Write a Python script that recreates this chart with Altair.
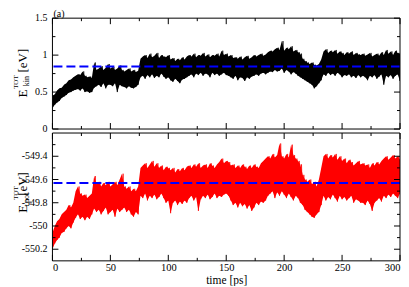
import altair as alt
import pandas as pd

# ---------------- data ----------------
times = list(range(0, 301, 2))

kin_hi = [0.45, 0.47, 0.52, 0.55, 0.56, 0.60, 0.62, 0.66, 0.67, 0.70, 0.72,
          0.74, 0.73, 0.78, 0.72, 0.70, 0.71, 0.69,
          0.90, 0.80, 0.82, 0.85, 0.80, 0.83, 0.88, 0.82, 0.84, 0.80, 0.82, 0.86, 0.80, 0.78, 0.80, 0.82, 0.78, 0.80, 0.77, 0.79,
          0.95, 0.98, 1.00, 0.96, 1.02, 0.97, 0.99, 1.03, 0.96, 1.00, 0.98, 0.97, 1.00,
          0.94, 0.96, 0.92, 0.95, 0.93, 0.97, 0.94, 0.98,
          1.00, 0.98, 1.02, 0.97, 1.00, 0.99, 1.03, 0.98, 1.01, 0.97, 1.00, 0.99, 1.02, 0.98, 1.06, 1.00, 1.02,
          0.98, 1.00, 0.96, 0.97, 0.95, 0.98, 0.94, 0.97, 0.99, 0.95, 0.97, 1.00, 0.98, 1.00, 1.02, 0.99, 1.01,
          1.04, 1.06, 1.05, 1.08, 1.10, 1.07, 1.19, 1.06, 1.10, 1.08, 1.12, 1.05, 1.07, 1.04, 1.02,
          0.95, 0.92, 0.90, 0.88, 0.90, 0.87, 0.86, 0.88, 0.94,
          1.05, 1.08, 1.03, 1.06, 1.04, 1.07, 1.02, 1.05, 1.03, 1.00, 1.04, 1.02, 1.05, 1.00, 1.03, 1.01, 1.00,
          1.02, 0.99, 1.01, 1.03, 0.98, 1.00, 1.02, 0.99, 1.04, 1.00, 1.07, 1.02, 1.05, 1.00, 1.06, 1.03, 1.02]

kin_lo = [0.28, 0.33, 0.36, 0.38, 0.42, 0.44, 0.46, 0.49, 0.50, 0.52, 0.53,
          0.54, 0.52, 0.55, 0.50, 0.51, 0.49, 0.50,
          0.56, 0.58, 0.60, 0.57, 0.62, 0.55, 0.60, 0.60, 0.58, 0.62, 0.50, 0.60, 0.58, 0.57, 0.55, 0.58, 0.56, 0.55, 0.57, 0.60,
          0.70, 0.72, 0.68, 0.73, 0.70, 0.74, 0.69, 0.72, 0.70, 0.75, 0.71, 0.68, 0.70,
          0.66, 0.64, 0.68, 0.65, 0.62, 0.67, 0.68, 0.70,
          0.72, 0.74, 0.70, 0.75, 0.73, 0.76, 0.72, 0.75, 0.74, 0.70, 0.76, 0.73, 0.75, 0.72, 0.74, 0.76, 0.73,
          0.72, 0.70, 0.68, 0.72, 0.66, 0.70, 0.69, 0.65, 0.70, 0.68, 0.71, 0.72, 0.74, 0.72, 0.75, 0.76, 0.74,
          0.76, 0.78, 0.77, 0.80, 0.78, 0.79, 0.82, 0.76, 0.80, 0.78, 0.74, 0.77, 0.75, 0.72, 0.70,
          0.68, 0.66, 0.64, 0.62, 0.60, 0.55, 0.58, 0.62, 0.66,
          0.74, 0.72, 0.76, 0.73, 0.75, 0.72, 0.76, 0.74, 0.70, 0.73, 0.72, 0.74, 0.70, 0.72, 0.69, 0.73, 0.70,
          0.72, 0.70, 0.66, 0.72, 0.70, 0.73, 0.68, 0.71, 0.74, 0.60, 0.72, 0.70, 0.73, 0.68, 0.72, 0.74, 0.65]

pot_hi = [-550.06, -550.00, -549.96, -549.94, -549.90, -549.88, -549.86, -549.82, -549.84, -549.80, -549.70,
          -549.66, -549.72, -549.74, -549.73, -549.76, -549.74, -549.72,
          -549.57, -549.64, -549.62, -549.66, -549.63, -549.65, -549.62, -549.66, -549.64, -549.62, -549.65, -549.60, -549.55, -549.66, -549.68, -549.66, -549.70, -549.68, -549.70, -549.66,
          -549.50, -549.48, -549.46, -549.50, -549.47, -549.44, -549.49, -549.46, -549.50, -549.48, -549.52, -549.49, -549.50,
          -549.52, -549.50, -549.54, -549.51, -549.53, -549.50, -549.52, -549.49,
          -549.48, -549.50, -549.47, -549.49, -549.46, -549.50, -549.48, -549.47, -549.50, -549.46, -549.48, -549.50, -549.47, -549.45, -549.42, -549.46, -549.44,
          -549.45, -549.48, -549.47, -549.50, -549.48, -549.50, -549.47, -549.49, -549.51, -549.48, -549.50, -549.47, -549.49, -549.50, -549.46, -549.44, -549.42,
          -549.40, -549.42, -549.38, -549.41, -549.39, -549.29, -549.40, -549.42, -549.38, -549.41, -549.30, -549.39, -549.42, -549.44, -549.47,
          -549.56, -549.60, -549.62, -549.60, -549.64, -549.62, -549.66, -549.60, -549.50,
          -549.40, -549.38, -549.42, -549.39, -549.41, -549.38, -549.43, -549.40, -549.44, -549.42, -549.46, -549.43, -549.45, -549.48, -549.46, -549.44, -549.47,
          -549.46, -549.48, -549.47, -549.50, -549.46, -549.48, -549.45, -549.47, -549.44, -549.42, -549.40, -549.43, -549.41, -549.39, -549.42, -549.40, -549.43]

pot_lo = [-550.20, -550.15, -550.12, -550.10, -550.06, -550.05, -550.02, -550.00, -550.02, -549.97, -549.93,
          -549.90, -549.94, -549.92, -549.95, -549.92, -549.94, -549.90,
          -549.85, -549.88, -549.86, -549.90, -549.87, -549.84, -549.90, -549.88, -549.86, -549.92, -549.85, -549.88, -549.86, -549.84, -549.88, -549.86, -549.90, -549.92, -549.88, -549.90,
          -549.74, -549.76, -549.72, -549.78, -549.74, -549.76, -549.73, -549.77, -549.75, -549.72, -549.76, -549.80, -549.78,
          -549.89, -549.80, -549.78, -549.82, -549.79, -549.81, -549.78, -549.80,
          -549.76, -549.74, -549.78, -549.75, -549.87, -549.77, -549.74, -549.76, -549.73, -549.77, -549.75, -549.72, -549.76, -549.74, -549.75, -549.73, -549.72,
          -549.74, -549.78, -549.82, -549.80, -549.84, -549.80, -549.83, -549.81, -549.85, -549.82, -549.87, -549.84, -549.80, -549.82, -549.79, -549.80, -549.78,
          -549.74, -549.72, -549.70, -549.76, -549.71, -549.74, -549.70, -549.73, -549.76, -549.72, -549.75, -549.78, -549.74, -549.76, -549.80,
          -549.82, -549.86, -549.88, -549.90, -549.92, -549.93, -549.90, -549.88, -549.82,
          -549.74, -549.78, -549.75, -549.77, -549.73, -549.76, -549.79, -549.74, -549.77, -549.75, -549.78, -549.76, -549.74, -549.80, -549.77, -549.78, -549.80,
          -549.80, -549.82, -549.78, -549.81, -549.87, -549.80, -549.78, -549.76, -549.79, -549.74, -549.76, -549.73, -549.75, -549.72, -549.74, -549.76, -549.72]

kin_mean = 0.845
pot_mean = -549.63

x_major = [0, 50, 100, 150, 200, 250, 300]
x_minor = [25, 75, 125, 175, 225, 275]
kin_major = [0, 0.5, 1, 1.5]
kin_minor = [0.25, 0.75, 1.25]
pot_major = [-550.2, -550.0, -549.8, -549.6, -549.4]
pot_minor = [-550.1, -549.9, -549.7, -549.5, -549.3]

for arr in (kin_hi, kin_lo, pot_hi, pot_lo):
    assert len(arr) == len(times), len(arr)

FONT = "Liberation Serif"
W = 348          # plot width
H1 = 111         # top panel height
GAP = 4          # gap between the panels
H2 = 128         # bottom panel height
H = H1 + GAP + H2
Y2TOP = H1 + GAP

one = pd.DataFrame({"k": [0]})

xs = alt.Scale(domain=[0, 300], nice=False, zero=False)
xaxis = alt.Axis(values=x_major, labelExpr="'' + datum.value", ticks=False,
                 domain=False, grid=False, labelFont=FONT, labelFontSize=10.5,
                 labelFontWeight="normal", labelColor="black", labelPadding=2,
                 title="time [ps]", titleFont=FONT, titleFontSize=11.5,
                 titleFontWeight="normal", titleColor="black", titlePadding=1)


def X(f):
    return alt.X(f, scale=xs, axis=xaxis)


def zig(lo, hi):
    rows = []
    for t, a, b in zip(times, lo, hi):
        rows.append({"t": t, "v": a})
        rows.append({"t": t + 1, "v": b})
    return pd.DataFrame(rows)


def txt(s, x, y, size, angle=270, align="center"):
    return alt.Chart(one).mark_text(
        text=s, font=FONT, fontSize=size, angle=angle, align=align,
        baseline="middle", color="black", fontWeight="normal"
    ).encode(x=alt.value(x), y=alt.value(y))


def panel_layers(lo, hi, color, ydom, y0, y1, ymaj, ymin, mean):
    ys = alt.Scale(domain=ydom, range=[y1, y0], nice=False, zero=False)

    def Y(f):
        return alt.Y(f, scale=ys, axis=None)

    out = []
    out.append(alt.Chart(pd.DataFrame({"t": times, "lo": lo, "hi": hi}))
               .mark_area(color=color, clip=True)
               .encode(x=X("t:Q"), y=Y("lo:Q"), y2="hi:Q"))
    out.append(alt.Chart(zig(lo, hi)).mark_line(color=color, strokeWidth=0.7, clip=True)
               .encode(x=X("t:Q"), y=Y("v:Q")))
    out.append(alt.Chart(pd.DataFrame({"m": [mean]}))
               .mark_rule(color="#0000ff", strokeWidth=2, strokeDash=[9, 4])
               .encode(y=Y("m:Q")))
    # frame
    out.append(alt.Chart(one).mark_rect(fill="transparent", stroke="black", strokeWidth=1)
               .encode(x=alt.value(0), x2=alt.value(W), y=alt.value(y0), y2=alt.value(y1)))
    # x ticks (inward, bottom and top)
    for vals, L in ((x_major, 6), (x_minor, 3)):
        d = pd.DataFrame({"tx": vals})
        out.append(alt.Chart(d).mark_rule(color="black")
                   .encode(x=X("tx:Q"), y=alt.value(y1), y2=alt.value(y1 - L)))
        out.append(alt.Chart(d).mark_rule(color="black")
                   .encode(x=X("tx:Q"), y=alt.value(y0), y2=alt.value(y0 + L)))
    # y ticks (inward, left and right)
    for vals, L in ((ymaj, 6), (ymin, 3)):
        d = pd.DataFrame({"ty": vals})
        out.append(alt.Chart(d).mark_rule(color="black")
                   .encode(y=Y("ty:Q"), x=alt.value(0), x2=alt.value(L)))
        out.append(alt.Chart(d).mark_rule(color="black")
                   .encode(y=Y("ty:Q"), x=alt.value(W), x2=alt.value(W - L)))
    # y tick labels
    d = pd.DataFrame({"ty": ymaj, "lab": [f"{v:g}" for v in ymaj]})
    out.append(alt.Chart(d).mark_text(font=FONT, fontSize=10, align="right",
                                      baseline="middle", color="black")
               .encode(y=Y("ty:Q"), x=alt.value(-5), text="lab:N"))
    return out


layers = []
layers += panel_layers(kin_lo, kin_hi, "black", [0, 1.5], 0, H1,
                       kin_major, kin_minor, kin_mean)
layers += panel_layers(pot_lo, pot_hi, "#ff0000", [-550.3, -549.2], Y2TOP, H,
                       pot_major, pot_minor, pot_mean)

layers += [
    txt("(a)", 1, -4.5, 10, angle=0, align="left"),
    txt("E", -29.5, 75.5, 13),
    txt("TOT", -36, 64, 7),
    txt("kin", -25.5, 63, 8),
    txt("[eV]", -29.5, 42.5, 13),
    txt("E", -29.5, Y2TOP + 76, 13),
    txt("TOT", -36, Y2TOP + 60, 7),
    txt("pot", -25.5, Y2TOP + 65, 8),
    txt("[eV]", -29.5, Y2TOP + 51, 13),
]

chart = alt.layer(*layers).resolve_scale(y="independent").properties(
    width=W, height=H,
    padding={"left": 4.5, "top": 0, "right": 0, "bottom": 0},
).configure_view(stroke=None)

chart.save("out.html", embed_options={"renderer": "svg", "actions": False})
